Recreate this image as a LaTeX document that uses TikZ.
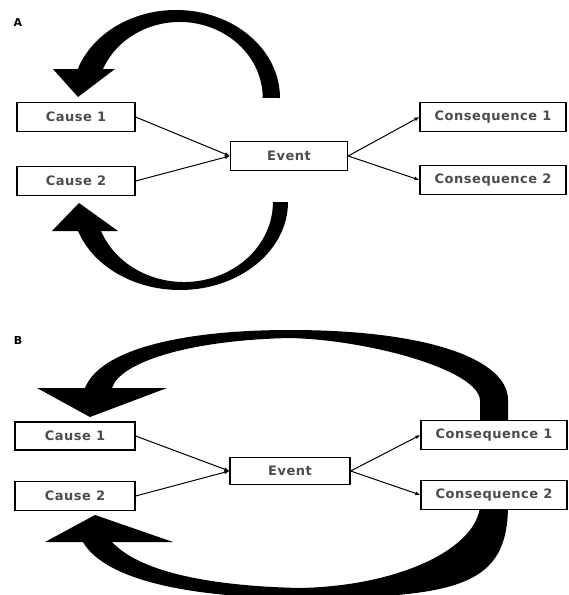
\documentclass[tikz,border=0pt]{standalone}
\usepackage{fontspec}
\setmainfont{DejaVu Sans}
\newfontfamily\boxfont[LetterSpace=4]{DejaVu Sans}
\usetikzlibrary{arrows.meta}
\tikzset{
	box/.style={draw, line width=1.2pt, fill=white, inner sep=0pt, minimum height=29pt,
		text=black!70, font=\boxfont\bfseries\fontsize{13}{15}\selectfont},
	link/.style={line width=1pt, -{Latex[length=5pt, width=4pt]}},
	panel/.style={font=\boxfont\bfseries\fontsize{11}{13}\selectfont},
	band/.style={fill=black}
	}

\begin{document}
\begin{tikzpicture}[x=1pt, y=-1pt]
	\useasboundingbox (0,0) rectangle (569,595);

	% panel A, upper loop back to cause 1
	\fill[band] (280,98) arc[start angle=0, end angle=-160.8, x radius=104, y radius=88]
		-- (103,69) arc[start angle=-157.6, end angle=0, x radius=83, y radius=76] -- cycle;
	\fill[band] (53,69) -- (115,69) -- (78,97) -- cycle;
	% panel A, lower loop back to cause 2
	\fill[band] (288,202) arc[start angle=0, end angle=160.8, x radius=108, y radius=88]
		-- (101,231) arc[start angle=158.75, end angle=0, x radius=89, y radius=80] -- cycle;
	\fill[band] (52,231) -- (118,231) -- (79,203) -- cycle;

	% panel B, upper loop from the consequences
	\fill[band] (508,430) -- (508,400) .. controls (508,360) and (430,330) .. (290,330)
		.. controls (180,330) and (100,350) .. (85,388) -- (112,388)
		.. controls (120,362) and (190,340) .. (290,338)
		.. controls (370,340) and (478,370) .. (480,400) -- (480,430) -- cycle;
	\fill[band] (37,388) -- (167,388) -- (90,417) -- cycle;
	% panel B, lower loop
	\fill[band] (508,490) -- (508,505) .. controls (508,585) and (460,598) .. (300,598)
		.. controls (190,598) and (105,580) .. (83,542) -- (112,542)
		.. controls (140,572) and (210,586) .. (300,588)
		.. controls (400,586) and (478,548) .. (480,505) -- (480,490) -- cycle;
	\fill[band] (45,542) -- (173,542) -- (95,515) -- cycle;

	% panel A
	\node[panel] (labA) at (18,22) {A};
	\node[box, minimum width=118pt] (causeA1) at (76,117) {Cause 1};
	\node[box, minimum width=118pt] (causeA2) at (76,181) {Cause 2};
	\node[box, minimum width=117pt] (eventA) at (289,156) {Event};
	\node[box, minimum width=146pt] (consA1) at (493,117) {Consequence 1};
	\node[box, minimum width=146pt] (consA2) at (493,180) {Consequence 2};
	\draw[link] (causeA1.east) -- (eventA.west);
	\draw[link] (causeA2.east) -- (eventA.west);
	\draw[link] (eventA.east) -- (consA1.west);
	\draw[link] (eventA.east) -- (consA2.west);

	% panel B
	\node[panel] (labB) at (18,340) {B};
	\node[box, minimum width=120pt, minimum height=28pt] (causeB1) at (75,436) {Cause 1};
	\node[box, minimum width=120pt] (causeB2) at (75,496) {Cause 2};
	\node[box, minimum width=120pt, minimum height=27pt] (eventB) at (290,471) {Event};
	\node[box, minimum width=146pt] (consB1) at (494,435) {Consequence 1};
	\node[box, minimum width=146pt] (consB2) at (494,495) {Consequence 2};
	\draw[link] (causeB1.east) -- (eventB.west);
	\draw[link] (causeB2.east) -- (eventB.west);
	\draw[link] (eventB.east) -- (consB1.west);
	\draw[link] (eventB.east) -- (consB2.west);

\end{tikzpicture}
\end{document}
